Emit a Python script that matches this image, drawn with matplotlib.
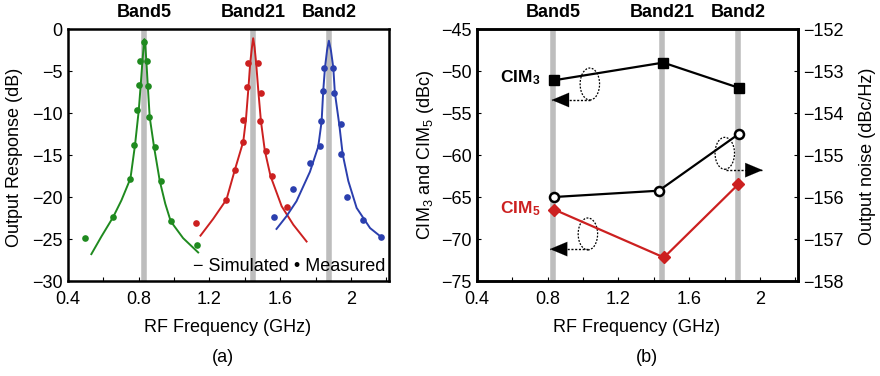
import matplotlib
matplotlib.use("Agg")
import matplotlib.pyplot as plt
from matplotlib.patches import Ellipse
from matplotlib.ticker import MultipleLocator
import matplotlib.transforms as mtransforms

plt.rcParams['font.family'] = ['Liberation Sans', 'DejaVu Sans']
plt.rcParams['mathtext.default'] = 'regular'

# --- bandes LTE ---
band_names = ["Band5", "Band21", "Band2"]
band_freq = [0.83, 1.447, 1.875]

# --- (a) réponse de sortie : simulée (lignes) et mesurée (points) ---
b5_sim_f = [0.532, 0.589, 0.655, 0.702, 0.753, 0.779, 0.800, 0.811, 0.821, 0.828, 0.832,
            0.837, 0.843, 0.851, 0.862, 0.887, 0.919, 0.950, 0.981, 1.051, 1.136]
b5_sim_db = [-26.8, -24.7, -22.4, -20.4, -17.8, -13.8, -9.7, -6.7, -3.8, -2.0, -1.2,
             -2.0, -3.8, -6.7, -10.5, -14.1, -18.1, -20.8, -22.9, -24.9, -26.6]
b5_meas_f = [0.498, 0.655, 0.753, 0.774, 0.792, 0.802, 0.809, 0.832, 0.849, 0.853, 0.860,
             0.891, 0.928, 0.981, 1.130]
b5_meas_db = [-24.9, -22.4, -17.8, -13.8, -9.7, -6.7, -3.8, -1.6, -3.8, -6.8, -10.5,
              -14.1, -18.1, -22.9, -25.7]

b21_sim_f = [1.149, 1.221, 1.296, 1.343, 1.391, 1.406, 1.421, 1.430, 1.440, 1.447, 1.455,
             1.464, 1.477, 1.491, 1.513, 1.545, 1.608, 1.674, 1.749]
b21_sim_db = [-24.6, -22.6, -20.3, -16.8, -13.4, -10.8, -6.8, -4.1, -2.2, -1.1, -2.2,
              -4.1, -7.6, -11.0, -14.5, -17.5, -21.1, -23.3, -25.3]
b21_meas_f = [1.123, 1.296, 1.343, 1.391, 1.389, 1.413, 1.419, 1.475, 1.489, 1.485, 1.519,
              1.551, 1.636]
b21_meas_db = [-23.1, -20.3, -16.8, -13.4, -10.8, -6.9, -4.1, -4.1, -7.6, -11.0, -14.5,
               -17.5, -21.2]

b2_sim_f = [1.579, 1.635, 1.692, 1.768, 1.815, 1.834, 1.843, 1.853, 1.865, 1.875, 1.887,
            1.900, 1.909, 1.934, 1.953, 1.985, 2.032, 2.108, 2.179]
b2_sim_db = [-23.8, -22.3, -20.5, -17.0, -14.0, -11.0, -7.4, -4.6, -2.5, -1.4, -2.6,
             -4.6, -7.6, -11.4, -14.9, -18.1, -21.3, -23.7, -24.9]
b2_meas_f = [1.566, 1.674, 1.768, 1.825, 1.830, 1.840, 1.849, 1.900, 1.906, 1.943, 1.943,
             1.979, 2.070, 2.170]
b2_meas_db = [-22.4, -19.1, -16.0, -13.9, -11.0, -7.4, -4.6, -4.7, -7.6, -11.35, -14.9,
              -20.0, -22.7, -24.8]

# --- (b) CIM3 / CIM5 (axe gauche) et bruit de sortie (axe droit) ---
cim3_f = [0.837, 1.453, 1.880]
cim3_dbc = [-51.1, -49.0, -52.0]
cim5_f = [0.837, 1.457, 1.877]
cim5_dbc = [-66.5, -72.2, -63.5]
noise_f = [0.837, 1.428, 1.880]
noise_dbchz = [-156.0, -155.85, -154.5]

GREEN = "#1f8a1f"
RED = "#cc2020"
BLUE = "#2b3fae"
GRAY = "#bdbdbd"
FS = 13

fig = plt.figure(figsize=(8.8, 3.76), dpi=100)
ax_a = fig.add_axes([68 / 880, 95 / 376, 321 / 880, 252 / 376])
ax_b = fig.add_axes([477 / 880, 95 / 376, 321 / 880, 252 / 376])


def style_axes(ax):
    for s in ax.spines.values():
        s.set_linewidth(1.8)
    ax.set_xlim(0.4, 2.215)
    ax.xaxis.set_minor_locator(MultipleLocator(0.2))
    ax.tick_params(which="both", direction="in", length=3, width=0.8, labelsize=FS,
                   top=False, right=False)
    ax.tick_params(axis="x", pad=7)
    ax.tick_params(axis="y", pad=4)
    ax.set_xticks([0.4, 0.8, 1.2, 1.6, 2.0])
    ax.set_xticklabels(["0.4", "0.8", "1.2", "1.6", "2"])
    trans = mtransforms.blended_transform_factory(ax.transData, ax.transAxes)
    for name, f in zip(band_names, band_freq):
        ax.axvline(f, color=GRAY, lw=4, zorder=0)
        ax.text(f, 1.065, name, transform=trans, ha="center", va="center",
                fontsize=13, fontweight="bold")


# --- panneau (a) ---
style_axes(ax_a)
ax_a.set_ylim(-30, 0)
ax_a.yaxis.set_major_locator(MultipleLocator(5))
for sf, sd, mf, md, c in [(b5_sim_f, b5_sim_db, b5_meas_f, b5_meas_db, GREEN),
                          (b21_sim_f, b21_sim_db, b21_meas_f, b21_meas_db, RED),
                          (b2_sim_f, b2_sim_db, b2_meas_f, b2_meas_db, BLUE)]:
    ax_a.plot(sf, sd, color=c, lw=1.4)
    ax_a.plot(mf, md, "o", color=c, ms=4.8, mec="none")
ax_a.text(0.988, -28.3, "\u2212 Simulated \u2022 Measured",
          transform=mtransforms.blended_transform_factory(ax_a.transAxes, ax_a.transData),
          ha="right", va="center", fontsize=FS)

fig.text(15 / 880, 1 - 157 / 376, "Output Response (dB)", rotation=90, ha="center", va="center", fontsize=FS)
fig.text(228 / 880, 1 - 327 / 376, "RF Frequency (GHz)", ha="center", va="center", fontsize=FS)
fig.text(223 / 880, 1 - 358 / 376, "(a)", ha="center", va="center", fontsize=FS)

# --- panneau (b) ---
style_axes(ax_b)
ax_b.set_ylim(-75, -45)
ax_b.yaxis.set_major_locator(MultipleLocator(5))
ax_n = ax_b.twinx()
ax_n.set_ylim(-158, -152)
ax_n.yaxis.set_major_locator(MultipleLocator(1))
ax_n.tick_params(direction="in", length=3, width=0.8, labelsize=FS, pad=4)
for s in ax_n.spines.values():
    s.set_linewidth(1.8)

ax_b.plot(cim3_f, cim3_dbc, "-s", color="black", lw=1.6, ms=6.5, zorder=3)
ax_b.plot(cim5_f, cim5_dbc, "-D", color=RED, lw=1.6, ms=6, zorder=3)
ax_n.plot(noise_f, noise_dbchz, "-o", color="black", lw=1.6, ms=6.5, mfc="white", mew=1.8, zorder=3)

ax_b.text(0.645, -50.8, "CIM$_3$", ha="center", va="center", fontsize=12.5, fontweight="bold")
ax_b.text(0.645, -66.4, "CIM$_5$", ha="center", va="center", fontsize=12.5, fontweight="bold", color=RED)

# ellipses et flèches pointillées (centre x, centre y, queue, pointe, y flèche)
for (cx, cy, x0, x1, ya) in [(1.038, -51.55, 1.038, 0.822, -53.45),
                              (1.027, -69.4, 1.030, 0.812, -71.2),
                              (1.801, -59.8, 1.806, 2.015, -61.8)]:
    ax_b.add_patch(Ellipse((cx, cy), 0.11, 3.8, fill=False, ls=(0, (1.5, 1.2)), lw=0.9, color="black"))
    ax_b.plot([x0, x1], [ya, ya], color="black", lw=1.0, ls=(0, (1.5, 1.2)))
    sgn = 1 if x1 > x0 else -1
    ax_b.annotate("", xy=(x1, ya), xytext=(x1 - sgn * 0.08, ya),
                  arrowprops=dict(arrowstyle="-|>,head_length=0.62,head_width=0.26",
                                  mutation_scale=20, lw=0.1, color="black",
                                  shrinkA=0, shrinkB=0))

fig.text(425 / 880, 1 - 155 / 376, "CIM$_3$ and CIM$_5$ (dBc)", rotation=90, ha="center", va="center", fontsize=FS)
fig.text(867 / 880, 1 - 156 / 376, "Output noise (dBc/Hz)", rotation=90, ha="center", va="center", fontsize=FS)
fig.text(637 / 880, 1 - 327 / 376, "RF Frequency (GHz)", ha="center", va="center", fontsize=FS)
fig.text(647 / 880, 1 - 358 / 376, "(b)", ha="center", va="center", fontsize=FS)

fig.savefig("out.png", dpi=100)
